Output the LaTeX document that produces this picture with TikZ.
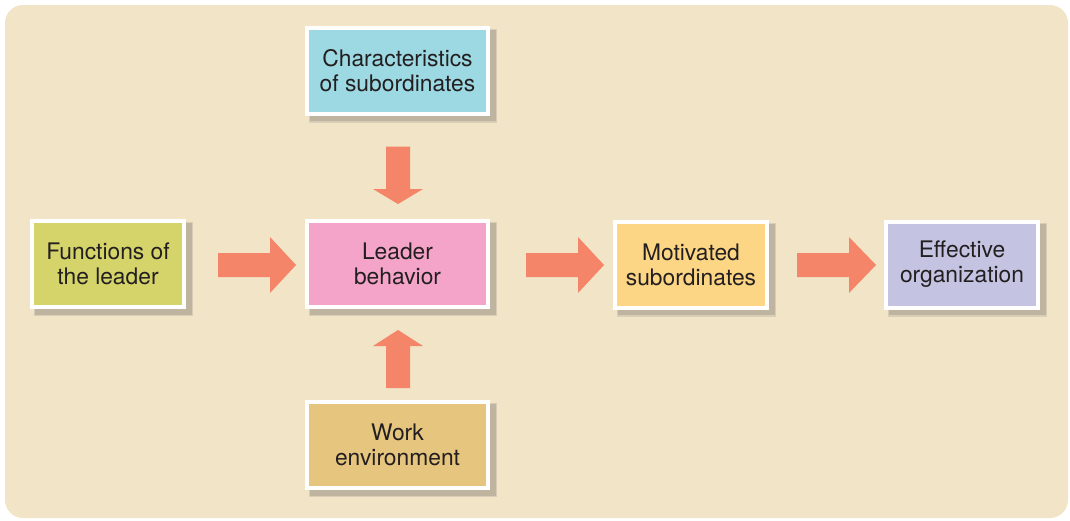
\documentclass[tikz,border=0pt]{standalone}
\usepackage{fontspec}
\setmainfont{TeX Gyre Heros}
\usetikzlibrary{calc}
\definecolor{bgc}{RGB}{242,228,199}
\definecolor{shadowc}{RGB}{190,180,160}
\definecolor{shadowl}{RGB}{216,205,183}
\definecolor{arrowc}{RGB}{245,133,104}
\definecolor{txtc}{RGB}{35,31,32}
\definecolor{cyanc}{RGB}{157,217,227}
\definecolor{olivec}{RGB}{213,212,106}
\definecolor{pinkc}{RGB}{244,164,200}
\definecolor{yellowc}{RGB}{252,214,133}
\definecolor{lilacc}{RGB}{196,196,226}
\definecolor{tanc}{RGB}{230,197,126}
\pgfdeclarelayer{bg}
\pgfdeclarelayer{shadow}
\pgfsetlayers{bg,shadow,main}
\tikzset{
  box/.style={draw=white, line width=4pt, align=center, text=txtc,
    font=\fontsize{22.8}{24.8}\selectfont, inner sep=0pt,
    minimum height=86pt},
  wide/.style={box, minimum width=181pt},
  narrow/.style={box, minimum width=152pt},
}
\newcommand\boxshadow[1]{%
  \fill[shadowl] ($(#1.north west)+(4,3)$) rectangle ($(#1.south east)+(7,7)$);
  \fill[shadowc] ($(#1.north west)+(5,4)$) rectangle ($(#1.south east)+(5.5,5.5)$);
}
\begin{document}
\begin{tikzpicture}[x=1pt,y=-1pt]
\useasboundingbox (0,0) rectangle (1070,520);
\begin{pgfonlayer}{bg}
  \fill[bgc, rounded corners=18pt] (5,5) rectangle (1068,518);
\end{pgfonlayer}

\node[wide, fill=cyanc]    (char)   at (397.5,70.5) {Characteristics\\of subordinates};
\node[narrow, fill=olivec] (func)   at (108,264)    {Functions of\\the leader};
\node[wide, fill=pinkc]    (leader) at (397.5,264)  {Leader\\behavior};
\node[narrow, fill=yellowc](motiv)  at (691,264.5)  {Motivated\\subordinates};
\node[narrow, fill=lilacc] (effect) at (962,264.5)  {Effective\\organization};
\node[wide, fill=tanc]     (work)   at (397.5,445)  {Work\\environment};

\begin{pgfonlayer}{shadow}
  \boxshadow{char}
  \boxshadow{func}
  \boxshadow{leader}
  \boxshadow{motiv}
  \boxshadow{effect}
  \boxshadow{work}
\end{pgfonlayer}

% horizontal block arrows
\fill[arrowc] let \p1=($(func.east)+(32,0)$), \p2=($(leader.west)+(-9,1)$) in
  (\x1,\y2+12pt) -- (\x2-26pt,\y2+12pt) -- (\x2-26pt,\y2+28pt) -- (\x2,\y2)
  -- (\x2-26pt,\y2-28pt) -- (\x2-26pt,\y2-12pt) -- (\x1,\y2-12pt) -- cycle;
\fill[arrowc] let \p1=($(leader.east)+(36,0)$), \p2=($(motiv.west)+(-9,0.5)$) in
  (\x1,\y2+12pt) -- (\x2-26pt,\y2+12pt) -- (\x2-26pt,\y2+28pt) -- (\x2,\y2)
  -- (\x2-26pt,\y2-28pt) -- (\x2-26pt,\y2-12pt) -- (\x1,\y2-12pt) -- cycle;
\fill[arrowc] let \p1=($(motiv.east)+(28,0)$), \p2=($(effect.west)+(-8,0.5)$) in
  (\x1,\y2+12pt) -- (\x2-27pt,\y2+12pt) -- (\x2-27pt,\y2+28pt) -- (\x2,\y2)
  -- (\x2-27pt,\y2-28pt) -- (\x2-27pt,\y2-12pt) -- (\x1,\y2-12pt) -- cycle;

% vertical block arrows
\fill[arrowc] let \p1=($(char.south)+(0,31)$), \p2=($(leader.north)+(0.5,-15)$) in
  (\x2-12pt,\y1) -- (\x2-12pt,\y2+15pt) -- (\x2-25pt,\y2+15pt) -- (\x2,\y2)
  -- (\x2+25pt,\y2+15pt) -- (\x2+12pt,\y2+15pt) -- (\x2+12pt,\y1) -- cycle;
\fill[arrowc] let \p1=($(work.north)+(0,-12)$), \p2=($(leader.south)+(0.5,21)$) in
  (\x2-12pt,\y1) -- (\x2-12pt,\y2-16pt) -- (\x2-25pt,\y2-16pt) -- (\x2,\y2)
  -- (\x2+25pt,\y2-16pt) -- (\x2+12pt,\y2-16pt) -- (\x2+12pt,\y1) -- cycle;
\end{tikzpicture}
\end{document}
